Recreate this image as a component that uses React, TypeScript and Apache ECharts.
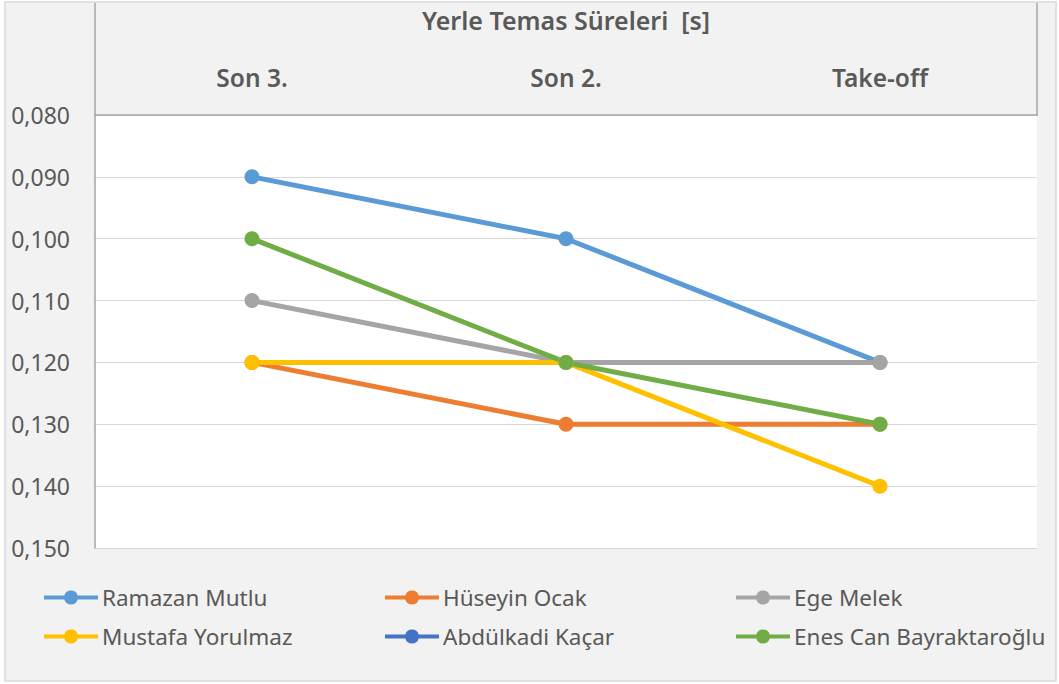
import React, { useEffect, useRef } from "react";
import * as echarts from "echarts";

const categories = ["Son 3.", "Son 2.", "Take-off"];
const seriesNames = [
  "Ramazan Mutlu",
  "Hüseyin Ocak",
  "Ege Melek",
  "Mustafa Yorulmaz",
  "Abdülkadi Kaçar",
  "Enes Can Bayraktaroğlu",
];
const ramazan = [0.09, 0.1, 0.12];
const huseyin = [0.12, 0.13, 0.13];
const ege = [0.11, 0.12, 0.12];
const mustafa = [0.12, 0.12, 0.14];
const abdulkadi: (number | null)[] = [null, null, null];
const enes = [0.1, 0.12, 0.13];
const seriesValues = [ramazan, huseyin, ege, mustafa, abdulkadi, enes];
const colors = ["#5B9BD5", "#ED7D31", "#A5A5A5", "#FFC000", "#4472C4", "#70AD47"];
const title = "Yerle Temas Süreleri  [s]";

const FONT = "'Noto Sans', 'Open Sans', sans-serif";
const LEGEND_ICON =
  "path://M0 5 L20.3 5 A7 7 0 0 1 33.7 5 L54 5 L54 9 L33.7 9 A7 7 0 0 1 20.3 9 L0 9 Z";

export default function App() {
  const ref = useRef<HTMLDivElement>(null);
  useEffect(() => {
    if (!ref.current) return;
    const chart = echarts.init(ref.current, null, { renderer: "svg" });
    const legendCols = [44, 385, 736];
    const legendRows = [586, 625];
    const legends = seriesNames.map((name, i) => ({
      data: [{ name, icon: LEGEND_ICON }],
      left: legendCols[i % 3],
      top: legendRows[Math.floor(i / 3)],
      padding: 0,
      itemWidth: 54,
      itemHeight: 14,
      itemGap: 0,
      selectedMode: false,
      itemStyle: { color: colors[i], borderWidth: 0 },
      textStyle: { fontFamily: FONT, fontSize: 22.5, color: "#595959", padding: [0, 0, 0, -1] },
    }));
    chart.setOption({
      animation: false,
      backgroundColor: "transparent",
      textStyle: { fontFamily: FONT },
      color: colors,
      graphic: [
        {
          type: "rect",
          z: -10,
          silent: true,
          shape: { x: 5, y: 2, width: 1051, height: 679 },
          style: { fill: "#f2f2f2", stroke: "#d9d9d9", lineWidth: 1.5 },
        },
        {
          type: "line",
          silent: true,
          shape: { x1: 95, y1: 3, x2: 95, y2: 116 },
          style: { stroke: "#a6a6a6", lineWidth: 1.5 },
        },
        {
          type: "line",
          silent: true,
          shape: { x1: 1037, y1: 3, x2: 1037, y2: 116 },
          style: { stroke: "#a6a6a6", lineWidth: 1.5 },
        },
        {
          type: "text",
          silent: true,
          x: 566,
          y: 20,
          style: {
            text: title,
            fontFamily: FONT,
            fontSize: 25,
            fontWeight: 600,
            fill: "#595959",
            align: "center",
            verticalAlign: "middle",
          },
        },
      ],
      legend: legends,
      grid: {
        left: 95,
        top: 115,
        width: 942,
        height: 433,
        show: true,
        backgroundColor: "#ffffff",
        borderWidth: 0,
        containLabel: false,
      },
      xAxis: {
        type: "category",
        position: "top",
        data: categories,
        boundaryGap: true,
        axisTick: { show: false },
        axisLine: { show: true, lineStyle: { color: "#a6a6a6", width: 1.5 } },
        axisLabel: {
          fontFamily: FONT,
          fontSize: 24.5,
          fontWeight: 600,
          color: "#595959",
          margin: 25,
        },
        splitLine: { show: false },
      },
      yAxis: {
        type: "value",
        inverse: true,
        min: 0.08,
        max: 0.15,
        interval: 0.01,
        axisLine: { show: true, lineStyle: { color: "#a6a6a6", width: 1.5 } },
        axisTick: { show: false },
        splitLine: { show: true, lineStyle: { color: "#d9d9d9", width: 1 } },
        axisLabel: {
          fontFamily: FONT,
          fontSize: 23,
          color: "#595959",
          margin: 25,
          formatter: (v: number) => v.toFixed(3).replace(".", ","),
        },
      },
      series: seriesNames.map((name, i) => ({
        name,
        type: "line",
        data: seriesValues[i],
        symbol: "circle",
        symbolSize: 15,
        lineStyle: { width: 5, color: colors[i] },
        itemStyle: { color: colors[i] },
        connectNulls: false,
      })),
    });
    return () => chart.dispose();
  }, []);
  return <div ref={ref} style={{ position: "absolute", left: 0, top: 0, width: 1059, height: 684 }} />;
}
